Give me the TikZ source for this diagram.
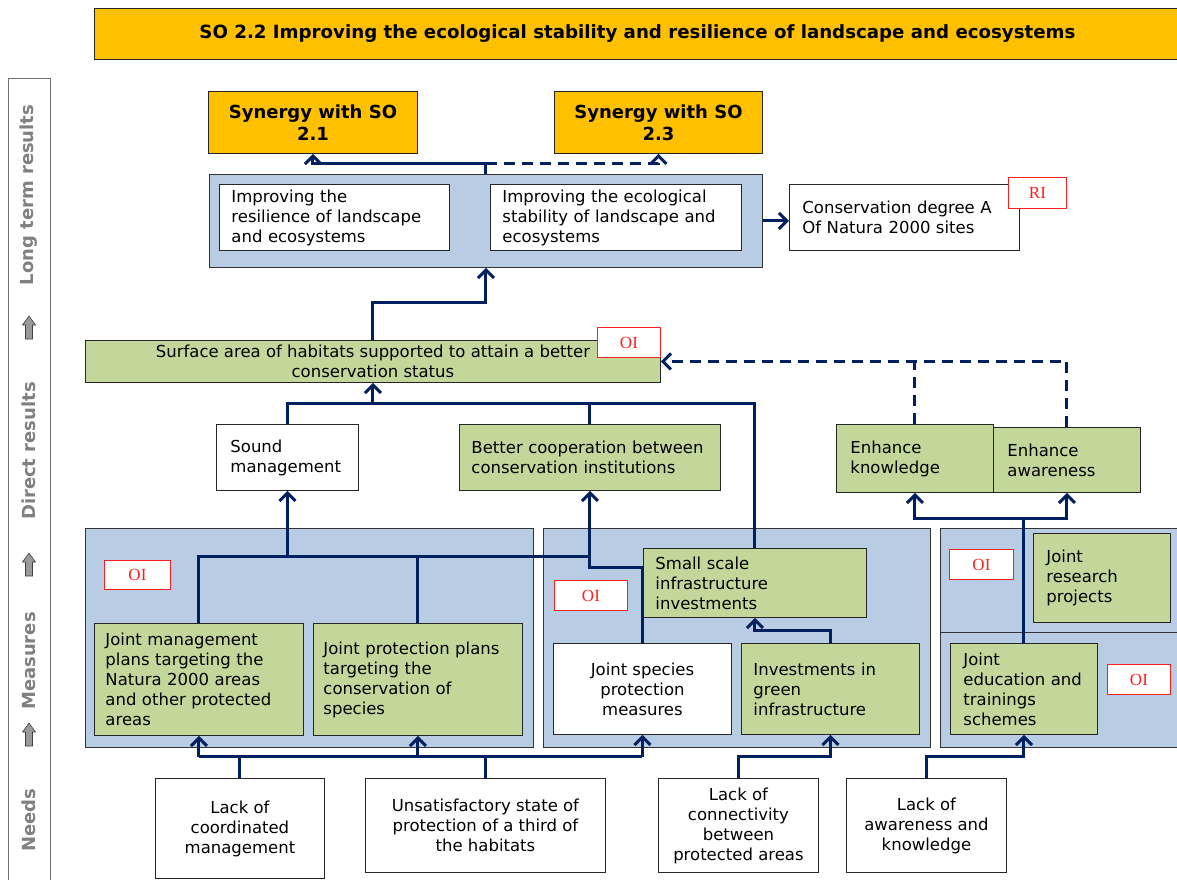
\documentclass[tikz,border=0pt]{standalone}
\usepackage{fontspec}
\setmainfont{DejaVu Sans}
\newfontfamily\oifont{Liberation Serif}
\usetikzlibrary{arrows.meta,calc}
\definecolor{navy}{RGB}{0,32,96}
\definecolor{gold}{RGB}{255,192,0}
\definecolor{panelblue}{RGB}{184,204,228}
\definecolor{leaf}{RGB}{196,215,155}
\definecolor{sidegray}{RGB}{128,128,128}
\definecolor{indred}{RGB}{255,30,30}
\newcommand{\bodyfont}{\fontsize{16.5}{20}\selectfont}
\newcommand{\synfont}{\fontsize{18}{22}\selectfont\bfseries}
\newcommand{\headfont}{\fontsize{18.2}{20}\selectfont\bfseries}
\newcommand{\sidefont}{\fontsize{18}{20}\selectfont\bfseries}
\newcommand{\indfont}{\oifont\fontsize{17}{18}\selectfont}
\tikzset{
  sz/.style 2 args={minimum width=#1pt, minimum height=#2pt},
  base/.style={draw=black!85, line width=0.9pt, inner sep=0pt, anchor=north west, font=\bodyfont},
  wbox/.style={base, fill=white},
  gbox/.style={base, fill=leaf},
  ybox/.style={base, fill=gold, font=\synfont, align=center},
  lft/.style={align=left, text width=#1pt},
  ctr/.style={align=center},
  panel/.style={draw=black!80, line width=0.9pt, fill=panelblue, anchor=north west, inner sep=0pt},
  ind/.style={draw=indred, line width=0.9pt, fill=white, text=indred, font=\indfont, anchor=north west, inner sep=0pt},
  conn/.style={draw=navy, line width=3pt},
  arr/.style={-{Straight Barb[length=8pt,width=16pt]}},
  dconn/.style={conn, dash pattern=on 11pt off 7pt},
  sidelbl/.style={font=\sidefont, text=sidegray, rotate=90, inner sep=0pt},
  uparrow/.style={fill=gray!80, draw=black!75, line width=0.6pt},
}
\begin{document}
\begin{tikzpicture}[x=1pt,y=-1pt]
\useasboundingbox (0,0) rectangle (1177,879);

% title bar
\node[ybox, font=\headfont, sz={1086}{51}] (head) at (94,8)
  {SO 2.2 Improving the ecological stability and resilience of landscape and ecosystems};

% level sidebar
\node[draw=black!55, line width=0.9pt, anchor=north west, inner sep=0pt, sz={42}{812}] (side) at (8,78) {};
\node[sidelbl] (lvl1) at (29,195) {Long term results};
\node[sidelbl] (lvl2) at (29,451) {Direct results};
\node[sidelbl] (lvl3) at (29,661) {Measures};
\node[sidelbl] (lvl4) at (29,820) {Needs};
\foreach \yy in {328,565,735}
  \draw[uparrow] (29,\yy-12) -- (35.5,\yy-3) -- (32.5,\yy-3) -- (32.5,\yy+11)
    -- (25.5,\yy+11) -- (25.5,\yy-3) -- (22.5,\yy-3) -- cycle;

% synergies
\node[ybox, sz={209}{62}] (syn1) at (208,91) {Synergy with SO\\2.1};
\node[ybox, sz={208}{62}] (syn2) at (554,91) {Synergy with SO\\2.3};

% long term results
\node[panel, sz={553}{93}] (ltp) at (209,174) {};
\node[wbox, sz={230}{66}, lft=206] (lt1) at (219,184) {Improving the\\resilience of landscape\\and ecosystems};
\node[wbox, sz={251}{66}, lft=227] (lt2) at (490,184) {Improving the ecological\\stability of landscape and\\ecosystems};
\node[wbox, sz={230}{66}, lft=204] (cons) at (789,184) {Conservation degree A\\Of Natura 2000 sites};
\node[ind, sz={58}{31}] (ri) at (1008,177) {RI};

% direct results
\node[gbox, sz={575}{42}, ctr] (surf) at (85,340) {Surface area of habitats supported to attain a better\\conservation status};
\node[ind, sz={63}{30}] (oi1) at (597,327) {OI};
\node[wbox, sz={142}{66}, lft=114] (sound) at (216,424) {Sound\\management};
\node[gbox, sz={261}{66}, lft=237] (better) at (459,424) {Better cooperation between\\conservation institutions};
\node[gbox, sz={157}{68}, lft=129] (ek) at (836,424) {Enhance\\knowledge};
\node[gbox, sz={147}{65}, lft=119] (ea) at (993,427) {Enhance\\awareness};

% measures
\node[panel, sz={448}{219}] (p1) at (85,528) {};
\node[panel, sz={387}{219}] (p2) at (543,528) {};
\node[panel, sz={250}{104}] (p3a) at (940,528) {};
\node[panel, sz={250}{115}] (p3b) at (940,632) {};
\node[ind, sz={66}{29}] (oi2) at (104,560) {OI};
\node[gbox, sz={209}{112}, lft=187] (jm) at (94,623) {Joint management\\plans targeting the\\Natura 2000 areas\\and other protected\\areas};
\node[gbox, sz={209}{112}, lft=189] (jp) at (313,623) {Joint protection plans\\targeting the\\conservation of\\species};
\node[ind, sz={73}{30}] (oi3) at (554,580) {OI};
\node[gbox, sz={223}{69}, lft=199] (small) at (643,548) {Small scale\\infrastructure\\investments};
\node[wbox, sz={178}{91}, ctr] (species) at (553,643) {Joint species\\protection\\measures};
\node[gbox, sz={178}{91}, lft=154] (inv) at (741,643) {Investments in\\green\\infrastructure};
\node[ind, sz={64}{30}] (oi4) at (949,549) {OI};
\node[gbox, sz={137}{89}, lft=111] (res) at (1033,533) {Joint\\research\\projects};
\node[gbox, sz={147}{91}, lft=121] (edu) at (950,643) {Joint\\education and\\trainings\\schemes};
\node[ind, sz={63}{30}] (oi5) at (1107,664) {OI};

% needs
\node[wbox, sz={169}{100}, ctr] (n1) at (155,778) {Lack of\\coordinated\\management};
\node[wbox, sz={240}{94}, ctr] (n2) at (365,778) {Unsatisfactory state of\\protection of a third of\\the habitats};
\node[wbox, sz={160}{94}, ctr] (n3) at (658,778) {Lack of\\connectivity\\between\\protected areas};
\node[wbox, sz={160}{94}, ctr] (n4) at (846,778) {Lack of\\awareness and\\knowledge};

% links: long term results
\draw[conn,arr] (ltp.north) -- ++(0,-11) -| (syn1.south);
\draw[dconn,arr] (ltp.north) ++(0,-11) -| (syn2.south);
\draw[conn,arr] (ltp.east) -- (ltp.east -| cons.west);
\draw[conn,arr] (surf.north) -- ++(0,-38) -| (ltp.south);

% links: direct results
\draw[dconn,arr] (ea.north) |- (surf.east);
\draw[dconn] (ek.north) -- (ek.north |- surf.east);
\path (surf.south) ++(0,21) coordinate (busA);
\draw[conn] (sound.north) |- (busA);
\draw[conn] (small.north) |- (busA);
\draw[conn] (better.north) -- (better.north |- busA);
\draw[conn,arr] (busA) -- (surf.south);

% links: measures
\path (better.south) ++(0,66) coordinate (busB);
\draw[conn] (jm.north) |- (busB);
\draw[conn] (jp.north) -- (jp.north |- busB);
\draw[conn,arr] (sound.south |- busB) -- (sound.south);
\draw[conn,arr] (species.north) |- ($(better.south)+(0,77)$) -- (better.south);
\draw[conn,arr] (inv.north) -- ++(0,-13) -| (small.south);
\draw[conn,arr] (edu.north) -- ++(0,-125) -| (ek.south);
\draw[conn,arr] (edu.north) ++(0,-125) -| (ea.south);

% links: needs
\path (species.south) ++(0,22) coordinate (busC);
\draw[conn] (jm.south |- busC) -- (busC);
\draw[conn] (n1.north) -- (n1.north |- busC);
\draw[conn] (n2.north) -- (n2.north |- busC);
\draw[conn,arr] (jm.south |- busC) -- (jm.south);
\draw[conn,arr] (jp.south |- busC) -- (jp.south);
\draw[conn,arr] (busC) -- (species.south);
\draw[conn,arr] (n3.north) |- ($(inv.south)+(0,22)$) -- (inv.south);
\draw[conn,arr] (n4.north) |- ($(edu.south)+(0,22)$) -- (edu.south);
\end{tikzpicture}
\end{document}
